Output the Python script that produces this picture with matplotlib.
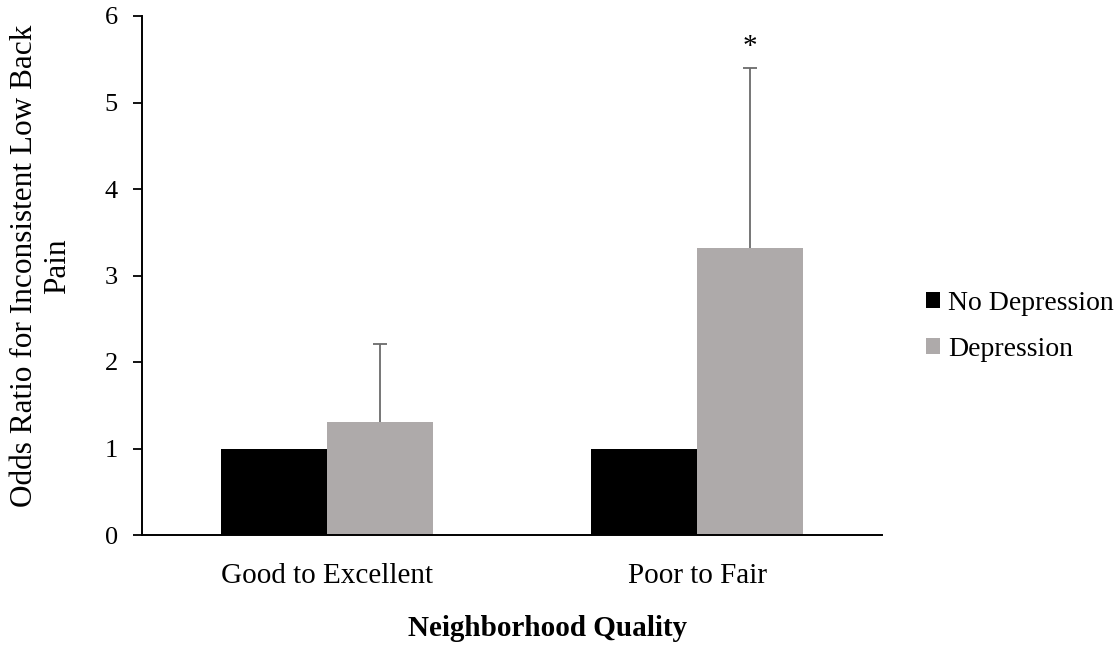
import numpy as np
import matplotlib.pyplot as plt

categories = ['Good to Excellent', 'Poor to Fair']
no_depression = [1.0, 1.0]
depression = [1.31, 3.32]
depression_upper = [2.21, 5.40]   # upper CI limit, only plus side is drawn
series_names = ['No Depression', 'Depression']

plt.rcParams['font.family'] = ['Liberation Serif', 'DejaVu Serif']

fig = plt.figure(figsize=(11.18, 6.45), dpi=100)
ax = fig.add_axes([142/1118, 1-535/645, 740/1118, 519/645])

x = np.arange(len(categories))
w = 1/3.5  # excel gap width 150%

yerr = [np.zeros(len(depression)), np.array(depression_upper) - np.array(depression)]

ax.bar(x - w/2, no_depression, w, color='black', label=series_names[0])
bc = ax.bar(x + w/2, depression, w, color='#aeaaaa', label=series_names[1],
            yerr=yerr, error_kw=dict(ecolor='#6b6b6b', elinewidth=1.3, capsize=5, capthick=1.3))
# hide the cap at the lower (zero length) end
bc.errorbar.lines[1][0].set_visible(False)

# significance mark over second group
ax.annotate('*', (x[1] + w/2, depression_upper[1]), xytext=(0, 6), textcoords='offset points',
            ha='center', va='bottom', fontsize=21)

ax.set_xlim(-0.5, len(categories) - 0.5)
ax.set_ylim(0, 6)
ax.set_yticks(range(0, 7))
ax.set_xticks(x)
ax.set_xticklabels(categories)

for s in ['top', 'right']:
    ax.spines[s].set_visible(False)
ax.spines['left'].set_linewidth(1.4)
ax.spines['bottom'].set_linewidth(1.4)

ax.tick_params(axis='y', direction='out', length=6.5, width=1.3, pad=11, labelsize=19)
ax.tick_params(axis='x', length=0, pad=20, labelsize=21)

fig.text(41/1118, 1-266/645, 'Odds Ratio for Inconsistent Low Back\nPain', rotation=90,
         ha='center', va='center', multialignment='center', fontsize=22.5, linespacing=1.15)
fig.text(548/1118, 1-636/645, 'Neighborhood Quality', ha='center', va='baseline',
         fontsize=21, fontweight='bold')

fig.legend(loc='center left', bbox_to_anchor=(926/1118, 1-326.5/645), frameon=False,
           fontsize=20, handlelength=0.5, handleheight=0.5, handletextpad=0.3,
           labelspacing=0.77, borderpad=0, borderaxespad=0)

fig.savefig('out.png', dpi=100)
